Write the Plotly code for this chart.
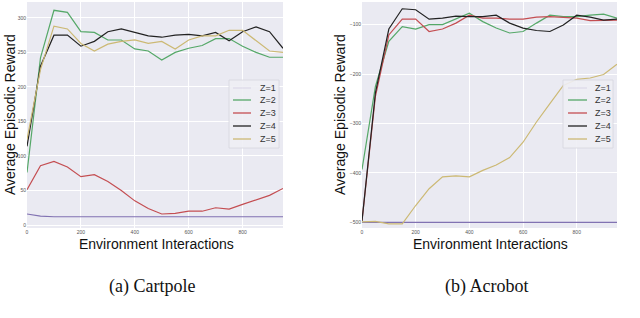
import plotly.graph_objects as go

# ---------------- data ----------------
steps = [i * 50 for i in range(20)]
series_names = ["Z=1", "Z=2", "Z=3", "Z=4", "Z=5"]
series_colors = ["#8172b2", "#55a868", "#c44e52", "#222222", "#ccb974"]

cartpole_z1 = [16, 13, 12, 12, 12, 12, 12, 12, 12, 12, 12, 12, 12, 12, 12, 12, 12, 12, 12, 12]
cartpole_z2 = [76, 242, 311, 308, 280, 279, 268, 268, 255, 252, 239, 250, 256, 260, 270, 270, 259, 250, 243, 243]
cartpole_z3 = [51, 86, 92, 84, 70, 73, 63, 50, 35, 24, 16, 17, 20, 20, 25, 23, 30, 36, 43, 53]
cartpole_z4 = [114, 230, 275, 275, 259, 266, 280, 284, 279, 274, 272, 275, 276, 274, 279, 267, 280, 287, 280, 256]
cartpole_z5 = [124, 225, 288, 284, 263, 252, 262, 266, 268, 263, 266, 255, 268, 274, 274, 282, 282, 267, 252, 250]

acrobot_z1 = [-500] * 20
acrobot_z2 = [-393, -225, -134, -104, -109, -100, -100, -89, -77, -94, -107, -117, -114, -97, -81, -84, -84, -81, -79, -87]
acrobot_z3 = [-497, -245, -121, -89, -89, -114, -109, -97, -81, -87, -87, -89, -89, -85, -84, -85, -87, -92, -92, -91]
acrobot_z4 = [-497, -238, -109, -68, -70, -89, -87, -83, -84, -84, -81, -97, -107, -112, -114, -101, -81, -85, -91, -89]
acrobot_z5 = [-499, -498, -503, -503, -466, -432, -408, -406, -408, -395, -384, -369, -338, -297, -260, -223, -211, -208, -201, -180]

cartpole = [cartpole_z1, cartpole_z2, cartpole_z3, cartpole_z4, cartpole_z5]
acrobot = [acrobot_z1, acrobot_z2, acrobot_z3, acrobot_z4, acrobot_z5]

x_ticks = [0, 200, 400, 600, 800]
cart_yticks = [0, 50, 100, 150, 200, 250, 300]
acro_yticks = [-500, -400, -300, -200, -100]

x_title = "Environment Interactions"
y_title = "Average Episodic Reward"
captions = ["(a) Cartpole", "(b) Acrobot"]

# ---------------- figure ----------------
W, H = 640, 318
def px(x):
    return x / W
def py(y):
    return 1 - y / H

fig = go.Figure()
for name, col, ys in zip(series_names, series_colors, cartpole):
    fig.add_trace(go.Scatter(x=steps, y=ys, mode="lines", name=name,
                             line=dict(color=col, width=1.2), xaxis="x", yaxis="y",
                             showlegend=False, cliponaxis=True))
for name, col, ys in zip(series_names, series_colors, acrobot):
    fig.add_trace(go.Scatter(x=steps, y=ys, mode="lines", name=name,
                             line=dict(color=col, width=1.2), xaxis="x2", yaxis="y2",
                             showlegend=False, cliponaxis=True))

FONT = "Liberation Sans, Arial, sans-serif"
tick_font = dict(family=FONT, size=5, color="#555555")
axis_common = dict(showgrid=True, gridcolor="white", gridwidth=1, zeroline=False,
                   showline=False, ticks="", tickfont=tick_font, automargin=False)

ydom = [py(228), py(2)]
fig.update_layout(
    width=W, height=H,
    margin=dict(l=0, r=0, t=0, b=0, autoexpand=False),
    paper_bgcolor="white",
    plot_bgcolor="#eaeaf2",
    showlegend=False,
    hovermode=False,
    xaxis=dict(domain=[px(27), px(283)], range=[0, 950], tickvals=x_ticks,
               anchor="y", **axis_common),
    yaxis=dict(domain=ydom, range=[-4.3, 323], tickvals=cart_yticks,
               anchor="x", **axis_common),
    xaxis2=dict(domain=[px(362), px(617)], range=[0, 950], tickvals=x_ticks,
                anchor="y2", **axis_common),
    yaxis2=dict(domain=ydom, range=[-511.5, -54.3], tickvals=acro_yticks,
                anchor="x2", **axis_common),
)

annotations = []
shapes = []
# axis titles & captions
for cx, ycx in [(156, 10), (490, 340)]:
    annotations.append(dict(x=px(cx), y=py(244), xref="paper", yref="paper",
                            text=x_title, showarrow=False,
                            font=dict(family=FONT, size=14, color="#111111"),
                            xanchor="center", yanchor="middle"))
    annotations.append(dict(x=px(ycx), y=py(115), xref="paper", yref="paper",
                            text=y_title, showarrow=False, textangle=-90,
                            font=dict(family=FONT, size=14, color="#111111"),
                            xanchor="center", yanchor="middle"))
for cap, cx in zip(captions, [152, 486]):
    annotations.append(dict(x=px(cx), y=py(286), xref="paper", yref="paper",
                            text=cap, showarrow=False,
                            font=dict(family="Liberation Serif, Times New Roman, serif",
                                      size=18, color="#111111"),
                            xanchor="center", yanchor="middle"))

# manual legends
row_y = [88, 100, 113, 126, 139]
for (bx0, bx1, lx0, lx1, tx) in [(229, 279, 233, 251, 258), (563, 613, 568, 587, 593)]:
    shapes.append(dict(type="rect", xref="paper", yref="paper",
                       x0=px(bx0), x1=px(bx1), y0=py(148), y1=py(80),
                       fillcolor="rgba(238,238,244,0.9)",
                       line=dict(color="#d6d6de", width=0.8), layer="above"))
    for i, (name, col) in enumerate(zip(series_names, series_colors)):
        opacity = 0.15 if i == 0 else 1.0
        shapes.append(dict(type="line", xref="paper", yref="paper",
                           x0=px(lx0), x1=px(lx1), y0=py(row_y[i]), y1=py(row_y[i]),
                           line=dict(color=col, width=1.3), opacity=opacity, layer="above"))
        annotations.append(dict(x=px(tx), y=py(row_y[i]), xref="paper", yref="paper",
                                text=name, showarrow=False,
                                font=dict(family=FONT, size=9, color="#333333"),
                                xanchor="left", yanchor="middle"))

fig.update_layout(annotations=annotations, shapes=shapes)
fig.write_html("out.html",
               config={"displayModeBar": False, "staticPlot": True},
               post_script="document.body.style.margin='0';document.body.style.overflow='hidden';")
